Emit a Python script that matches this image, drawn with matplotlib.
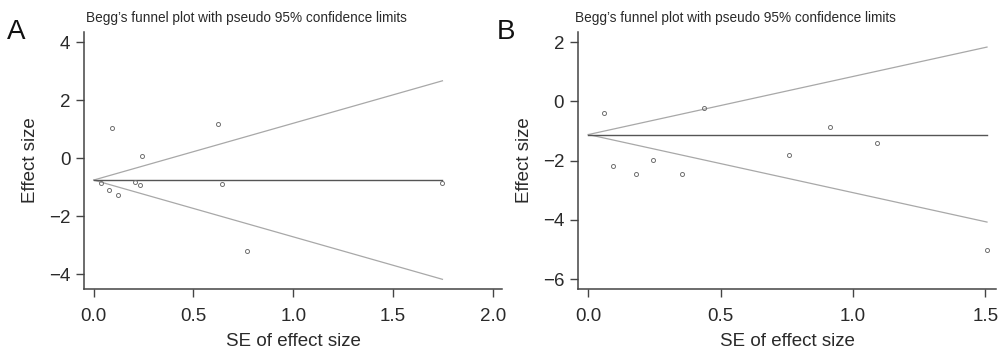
import matplotlib
matplotlib.use("Agg")
import matplotlib.pyplot as plt
import numpy as np

plt.rcParams['font.family'] = ['Liberation Sans', 'DejaVu Sans']

# Panel A data
se_a = [0.038, 0.092, 0.077, 0.124, 0.207, 0.230, 0.240, 0.623, 0.644, 0.766, 1.748]
eff_a = [-0.86, 1.06, -1.09, -1.27, -0.81, -0.91, 0.09, 1.17, -0.87, -3.19, -0.85]
theta_a = -0.75

# Panel B data
se_b = [0.059, 0.093, 0.181, 0.246, 0.353, 0.436, 0.758, 0.912, 1.091, 1.506]
eff_b = [-0.40, -2.18, -2.45, -1.98, -2.46, -0.22, -1.80, -0.88, -1.40, -5.02]
theta_b = -1.12

xticks_a = [0.0, 0.5, 1.0, 1.5, 2.0]
yticks_a = [-4, -2, 0, 2, 4]
xticks_b = [0.0, 0.5, 1.0, 1.5]
yticks_b = [-6, -4, -2, 0, 2]

title = "Begg\u2019s funnel plot with pseudo 95% confidence limits"

W, H = 998, 348
fig = plt.figure(figsize=(W / 100, H / 100), dpi=100)

spine_c = '#444444'
txt_c = '#2a2a2a'

def panel(rect, se, eff, theta, xt, yt, xlim, ylim, letter, letter_x, title_x):
    ax = fig.add_axes(rect)
    se = np.asarray(se)
    smax = se.max()
    xs = np.array([0, smax])
    ax.plot(xs, theta + 1.96 * xs, color='#a8a8a8', lw=0.9)
    ax.plot(xs, theta - 1.96 * xs, color='#a8a8a8', lw=0.9)
    ax.plot(xs, [theta, theta], color='#555555', lw=1.0)
    ax.plot(se, eff, 'o', ms=2.9, mfc='none', mec='#707070', mew=0.7)
    ax.set_xlim(*xlim)
    ax.set_ylim(*ylim)
    ax.set_xticks(xt)
    ax.set_xticklabels([f"{v:.1f}" for v in xt])
    ax.set_yticks(yt)
    ax.set_yticklabels([str(v).replace('-', '\u2212') for v in yt])
    for s in ['top', 'right']:
        ax.spines[s].set_visible(False)
    for s in ['left', 'bottom']:
        ax.spines[s].set_color(spine_c)
        ax.spines[s].set_linewidth(1.1)
    ax.tick_params(axis='both', direction='out', length=6, width=1.0,
                   color=spine_c, labelsize=13.5, labelcolor=txt_c)
    ax.tick_params(axis='x', pad=8)
    ax.tick_params(axis='y', pad=4)
    ax.set_xlabel("SE of effect size", fontsize=13.5, color=txt_c, labelpad=5.5)
    ax.set_ylabel("Effect size", fontsize=13.5, color=txt_c, labelpad=7)
    fig.text(letter_x / W, 1 - 32 / H, letter, fontsize=20, color='#111111',
             ha='left', va='center')
    fig.text(title_x / W, 1 - 18 / H, title, fontsize=9.8, color=txt_c,
             ha='left', va='center')
    return ax

bottom = (H - 288.7) / H
top_a = (H - 32.3) / H
panel([84.3 / W, bottom, (501.7 - 84.3) / W, top_a - bottom],
      se_a, eff_a, theta_a, xticks_a, yticks_a, (-0.047, 2.045), (-4.50, 4.35),
      'A', 7, 86)
panel([578 / W, bottom, (996 - 578) / W, top_a - bottom],
      se_b, eff_b, theta_b, xticks_b, yticks_b, (-0.039, 1.540), (-6.32, 2.33),
      'B', 497, 575)

fig.savefig('out.png', dpi=100)
